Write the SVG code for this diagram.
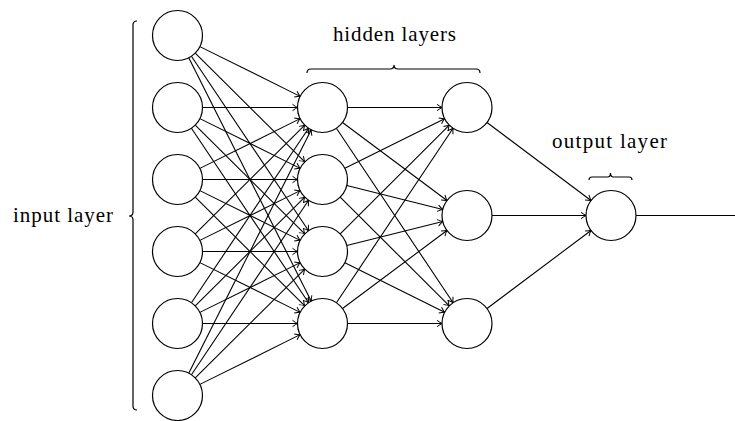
<svg xmlns="http://www.w3.org/2000/svg" width="735" height="421" viewBox="0 0 735 421">
<defs>
<marker id="arr" markerUnits="userSpaceOnUse" orient="auto" refX="0" refY="0" markerWidth="8" markerHeight="8" overflow="visible">
<path d="M-5,-3.2 Q-1.5,-0.6 0,0 Q-1.5,0.6 -5,3.2" fill="none" stroke="#000" stroke-width="1"/>
</marker>
</defs>
<style>
.n{fill:#fff;stroke:#000;stroke-width:1.2}
.e line{stroke:#000;stroke-width:1.1;marker-end:url(#arr)}
.b{fill:none;stroke:#000;stroke-width:1.2}
.t{font-family:"Liberation Serif","Times New Roman",serif;font-size:21px;fill:#000}
</style>
<rect width="735" height="421" fill="#fff"/>
<g id="connectors" class="e">
<line x1="199.89" y1="46.62" x2="300.11" y2="96.38"/>
<line x1="195.24" y1="53.12" x2="304.76" y2="161.88"/>
<line x1="191.43" y1="56.26" x2="308.57" y2="230.74"/>
<line x1="188.74" y1="57.83" x2="311.26" y2="301.17"/>
<line x1="202.5" y1="107.5" x2="297.5" y2="107.5"/>
<line x1="199.89" y1="118.62" x2="300.11" y2="168.38"/>
<line x1="195.24" y1="125.12" x2="304.76" y2="233.88"/>
<line x1="191.43" y1="128.26" x2="308.57" y2="302.74"/>
<line x1="199.89" y1="168.38" x2="300.11" y2="118.62"/>
<line x1="202.5" y1="179.5" x2="297.5" y2="179.5"/>
<line x1="199.89" y1="190.62" x2="300.11" y2="240.38"/>
<line x1="195.24" y1="197.12" x2="304.76" y2="305.88"/>
<line x1="195.24" y1="233.88" x2="304.76" y2="125.12"/>
<line x1="199.89" y1="240.38" x2="300.11" y2="190.62"/>
<line x1="202.5" y1="251.5" x2="297.5" y2="251.5"/>
<line x1="199.89" y1="262.62" x2="300.11" y2="312.38"/>
<line x1="191.43" y1="302.74" x2="308.57" y2="128.26"/>
<line x1="195.24" y1="305.88" x2="304.76" y2="197.12"/>
<line x1="199.89" y1="312.38" x2="300.11" y2="262.62"/>
<line x1="202.5" y1="323.5" x2="297.5" y2="323.5"/>
<line x1="188.74" y1="373.17" x2="311.26" y2="129.83"/>
<line x1="191.43" y1="374.74" x2="308.57" y2="200.26"/>
<line x1="195.24" y1="377.88" x2="304.76" y2="269.12"/>
<line x1="199.89" y1="384.38" x2="300.11" y2="334.62"/>
<line x1="347.5" y1="107.5" x2="442" y2="107.5"/>
<line x1="342.53" y1="122.47" x2="446.97" y2="200.53"/>
<line x1="336.4" y1="128.28" x2="453.1" y2="302.72"/>
<line x1="344.88" y1="168.35" x2="444.62" y2="118.65"/>
<line x1="346.76" y1="185.54" x2="442.74" y2="209.46"/>
<line x1="340.21" y1="197.15" x2="449.29" y2="305.85"/>
<line x1="340.21" y1="233.85" x2="449.29" y2="125.15"/>
<line x1="346.76" y1="245.46" x2="442.74" y2="221.54"/>
<line x1="344.88" y1="262.65" x2="444.62" y2="312.35"/>
<line x1="336.4" y1="302.72" x2="453.1" y2="128.28"/>
<line x1="342.53" y1="308.53" x2="446.97" y2="230.47"/>
<line x1="347.5" y1="323.5" x2="442" y2="323.5"/>
<line x1="487" y1="122.5" x2="591" y2="200.5"/>
<line x1="492" y1="215.5" x2="586" y2="215.5"/>
<line x1="487" y1="308.5" x2="591" y2="230.5"/>
<line x1="636" y1="215.5" x2="735" y2="215.5" style="marker-end:none"/>
</g>
<g id="input-layer">
<circle class="n" cx="177.5" cy="35.5" r="25"/>
<circle class="n" cx="177.5" cy="107.5" r="25"/>
<circle class="n" cx="177.5" cy="179.5" r="25"/>
<circle class="n" cx="177.5" cy="251.5" r="25"/>
<circle class="n" cx="177.5" cy="323.5" r="25"/>
<circle class="n" cx="177.5" cy="395.5" r="25"/>
<path class="b" d="M137 21 Q133 21 133 25 L133 212 Q133 216 129 216 Q133 216 133 220 L133 406 Q133 410 137 410"/>
<text class="t" x="13" y="222" textLength="100" lengthAdjust="spacing">input layer</text>
</g>
<g id="hidden-layer-1">
<circle class="n" cx="322.5" cy="107.5" r="25"/>
<circle class="n" cx="322.5" cy="179.5" r="25"/>
<circle class="n" cx="322.5" cy="251.5" r="25"/>
<circle class="n" cx="322.5" cy="323.5" r="25"/>
</g>
<g id="hidden-layer-2">
<circle class="n" cx="467" cy="107.5" r="25"/>
<circle class="n" cx="467" cy="215.5" r="25"/>
<circle class="n" cx="467" cy="323.5" r="25"/>
</g>
<g id="hidden-label">
<path class="b" d="M307 73 Q307 69 311 69 L390 69 Q394 69 394 65 Q394 69 398 69 L476 69 Q480 69 480 73"/>
<text class="t" x="333" y="41" textLength="123" lengthAdjust="spacing">hidden layers</text>
</g>
<g id="output-layer">
<circle class="n" cx="611" cy="215.5" r="25"/>
<path class="b" d="M589 180 Q589 177 592 177 L607.5 177 Q610.5 177 610.5 173 Q610.5 177 613.5 177 L629 177 Q632 177 632 180"/>
<text class="t" x="552" y="148" textLength="115" lengthAdjust="spacing">output layer</text>
</g>
</svg>
